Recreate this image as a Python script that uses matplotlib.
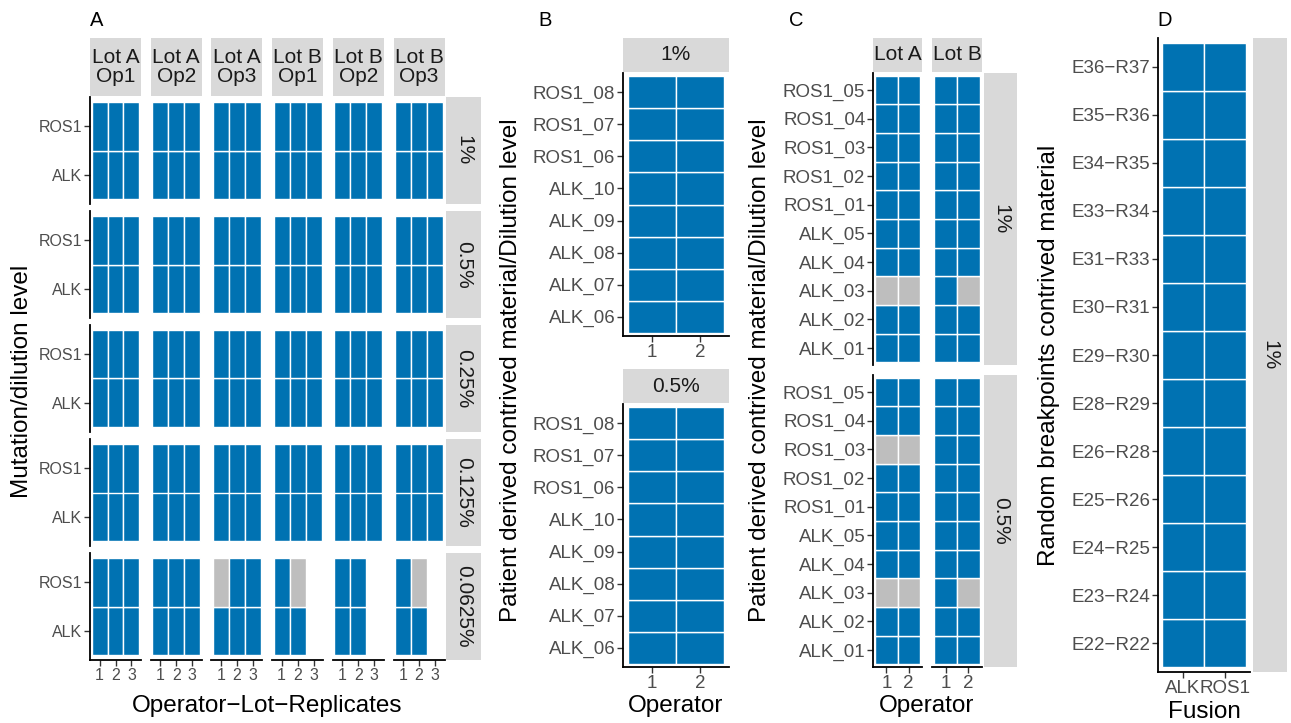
import matplotlib
matplotlib.use("Agg")
import matplotlib.pyplot as plt

plt.rcParams['font.family'] = ['Liberation Sans', 'DejaVu Sans']

# ---------------- data ----------------
# Panel A: calls per dilution level (rows) x operator/lot group (cols);
# each string gives replicates 1..3: D = detected, N = not detected, - = not run
A_levels = ["1%", "0.5%", "0.25%", "0.125%", "0.0625%"]
A_groups = ["Lot A\nOp1", "Lot A\nOp2", "Lot A\nOp3", "Lot B\nOp1", "Lot B\nOp2", "Lot B\nOp3"]
A_replicates = ["1", "2", "3"]
A_mutations = ["ALK", "ROS1"]
A_ALK_calls = [
    ["DDD", "DDD", "DDD", "DDD", "DDD", "DDD"],
    ["DDD", "DDD", "DDD", "DDD", "DDD", "DDD"],
    ["DDD", "DDD", "DDD", "DDD", "DDD", "DDD"],
    ["DDD", "DDD", "DDD", "DDD", "DDD", "DDD"],
    ["DDD", "DDD", "DDD", "DD-", "DD-", "DD-"],
]
A_ROS1_calls = [
    ["DDD", "DDD", "DDD", "DDD", "DDD", "DDD"],
    ["DDD", "DDD", "DDD", "DDD", "DDD", "DDD"],
    ["DDD", "DDD", "DDD", "DDD", "DDD", "DDD"],
    ["DDD", "DDD", "DDD", "DDD", "DDD", "DDD"],
    ["DDD", "DDD", "NDD", "DN-", "DD-", "DN-"],
]

# Panel B: samples (bottom to top) x operators 1,2
B_levels = ["1%", "0.5%"]
B_samples = ["ALK_06", "ALK_07", "ALK_08", "ALK_09", "ALK_10", "ROS1_06", "ROS1_07", "ROS1_08"]
B_operators = ["1", "2"]
B_calls_1 = ["DD", "DD", "DD", "DD", "DD", "DD", "DD", "DD"]
B_calls_05 = ["DD", "DD", "DD", "DD", "DD", "DD", "DD", "DD"]

# Panel C: samples (bottom to top) x operators 1,2, per lot and level
C_levels = ["1%", "0.5%"]
C_lots = ["Lot A", "Lot B"]
C_samples = ["ALK_01", "ALK_02", "ALK_03", "ALK_04", "ALK_05",
             "ROS1_01", "ROS1_02", "ROS1_03", "ROS1_04", "ROS1_05"]
C_operators = ["1", "2"]
C_calls_1_lotA = ["DD", "DD", "NN", "DD", "DD", "DD", "DD", "DD", "DD", "DD"]
C_calls_1_lotB = ["DD", "DD", "DN", "DD", "DD", "DD", "DD", "DD", "DD", "DD"]
C_calls_05_lotA = ["DD", "DD", "NN", "DD", "DD", "DD", "DD", "NN", "DD", "DD"]
C_calls_05_lotB = ["DD", "DD", "DN", "DD", "DD", "DD", "DD", "DD", "DD", "DD"]

# Panel D: breakpoints (bottom to top) x fusion
D_level = "1%"
D_breakpoints = ["E22\u2212R22", "E23\u2212R24", "E24\u2212R25", "E25\u2212R26", "E26\u2212R28",
                 "E28\u2212R29", "E29\u2212R30", "E30\u2212R31", "E31\u2212R33", "E33\u2212R34",
                 "E34\u2212R35", "E35\u2212R36", "E36\u2212R37"]
D_fusions = ["ALK", "ROS1"]
D_calls = ["DD", "DD", "DD", "DD", "DD", "DD", "DD", "DD", "DD", "DD", "DD", "DD", "DD"]

# ---------------- style ----------------
BLUE = "#0072B2"
NEG = "#BEBEBE"
STRIP = "#D9D9D9"
TICKCOL = "#4D4D4D"
TITLE_FS = 17.5
TICK_FS = 13.5
W, H = 1291, 723
fig = plt.figure(figsize=(W / 100, H / 100), dpi=100)


def px_axes(x0, y0, x1, y1):
    return fig.add_axes([x0 / W, 1 - y1 / H, (x1 - x0) / W, (y1 - y0) / H])


def ftext(x, y, s, **kw):
    fig.text(x / W, 1 - y / H, s, **kw)


def tiles(ax, xcats, ycats, calls):
    xs, ys, cols = [], [], []
    for yi, row in enumerate(calls):
        for xi, c in enumerate(row):
            if c == "-":
                continue
            xs.append(xi + 1)
            ys.append(yi + 0.5)
            cols.append(BLUE if c == "D" else NEG)
    ax.bar(xs, 1, bottom=ys, width=1, color=cols, edgecolor="white", linewidth=1.0)
    ax.set_xlim(0.4, len(xcats) + 0.6)
    ax.set_ylim(0.4, len(ycats) + 0.6)


def style(ax, xcats, ycats, left, bottom, fs):
    for s in ["top", "right"]:
        ax.spines[s].set_visible(False)
    for s in ["left", "bottom"]:
        ax.spines[s].set_linewidth(1.3)
        ax.spines[s].set_color("black")
    ax.spines["left"].set_visible(left)
    ax.spines["bottom"].set_visible(bottom)
    ax.set_xticks(range(1, len(xcats) + 1))
    ax.set_xticklabels(xcats)
    ax.set_yticks(range(1, len(ycats) + 1))
    ax.set_yticklabels(ycats)
    ax.tick_params(axis="x", bottom=bottom, labelbottom=bottom, length=4, width=1,
                   color="#333333", labelsize=fs, labelcolor=TICKCOL, pad=1.5)
    ax.tick_params(axis="y", left=left, labelleft=left, length=4, width=1,
                   color="#333333", labelsize=fs, labelcolor=TICKCOL, pad=1.5)


def strip(x0, y0, x1, y1, label, fs, rot=0, ls=1.0):
    ax = px_axes(x0, y0, x1, y1)
    ax.set_facecolor(STRIP)
    ax.set_xticks([])
    ax.set_yticks([])
    for s in ax.spines.values():
        s.set_visible(False)
    ax.text(0.5, 0.5, label, ha="center", va="center", fontsize=fs, color="#1A1A1A",
            rotation=rot, transform=ax.transAxes, linespacing=ls)


# ---------------- Panel A ----------------
A_x0 = [90 + i * 60.7 for i in range(6)]
A_w = 51
A_y0 = [97 + j * 114 for j in range(5)]
A_h = 107
for i, g in enumerate(A_groups):
    strip(A_x0[i], 38, A_x0[i] + A_w, 96, g, 15, ls=1.0)
for j, lev in enumerate(A_levels):
    strip(446, A_y0[j], 481, A_y0[j] + A_h, lev, 15, rot=-90)
    for i in range(len(A_groups)):
        ax = px_axes(A_x0[i], A_y0[j], A_x0[i] + A_w, A_y0[j] + A_h)
        tiles(ax, A_replicates, A_mutations, [A_ALK_calls[j][i], A_ROS1_calls[j][i]])
        style(ax, A_replicates, A_mutations, left=(i == 0), bottom=(j == len(A_levels) - 1), fs=11.5)
ftext(90, 20, "A", fontsize=14.5, ha="left", va="center")
ftext(22, 381, "Mutation/dilution level", fontsize=TITLE_FS, rotation=90, ha="center", va="center")
ftext(267, 706, "Operator\u2212Lot\u2212Replicates", fontsize=TITLE_FS, ha="center", va="center")

# ---------------- Panel B ----------------
B_boxes = [(38, 72, 73, 336), (369, 403, 404, 667)]
for (sy0, sy1, py0, py1), lev, calls in zip(B_boxes, B_levels, [B_calls_1, B_calls_05]):
    strip(623, sy0, 729, sy1, lev, 15)
    ax = px_axes(623, py0, 729, py1)
    tiles(ax, B_operators, B_samples, calls)
    style(ax, B_operators, B_samples, left=True, bottom=True, fs=TICK_FS)
ftext(538, 20, "B", fontsize=14.5, ha="left", va="center")
ftext(511, 370, "Patient derived contrived material/Dilution level", fontsize=TITLE_FS,
      rotation=90, ha="center", va="center")
ftext(676, 706, "Operator", fontsize=TITLE_FS, ha="center", va="center")

# ---------------- Panel C ----------------
C_x = [(873, 922), (932, 982)]
C_y = [(73, 365), (375, 667)]
C_calls = [[C_calls_1_lotA, C_calls_1_lotB], [C_calls_05_lotA, C_calls_05_lotB]]
for i, lot in enumerate(C_lots):
    strip(C_x[i][0], 38, C_x[i][1], 72, lot, 15)
for j, lev in enumerate(C_levels):
    strip(984, C_y[j][0], 1017, C_y[j][1], lev, 15, rot=-90)
    for i in range(len(C_lots)):
        ax = px_axes(C_x[i][0], C_y[j][0], C_x[i][1], C_y[j][1])
        tiles(ax, C_operators, C_samples, C_calls[j][i])
        style(ax, C_operators, C_samples, left=(i == 0), bottom=(j == 1), fs=TICK_FS)
ftext(789, 20, "C", fontsize=14.5, ha="left", va="center")
ftext(760, 370, "Patient derived contrived material/Dilution level", fontsize=TITLE_FS,
      rotation=90, ha="center", va="center")
ftext(927, 706, "Operator", fontsize=TITLE_FS, ha="center", va="center")

# ---------------- Panel D ----------------
strip(1253, 38, 1287, 672, D_level, 15, rot=-90)
ax = px_axes(1158, 38, 1250, 672)
tiles(ax, D_fusions, D_breakpoints, D_calls)
style(ax, D_fusions, D_breakpoints, left=True, bottom=True, fs=TICK_FS)
ftext(1157, 20, "D", fontsize=14.5, ha="left", va="center")
ftext(1049, 355, "Random breakpoints contrived material", fontsize=TITLE_FS,
      rotation=90, ha="center", va="center")
ftext(1204, 712, "Fusion", fontsize=TITLE_FS, ha="center", va="center")

fig.savefig("out.png", dpi=100, facecolor="white")
